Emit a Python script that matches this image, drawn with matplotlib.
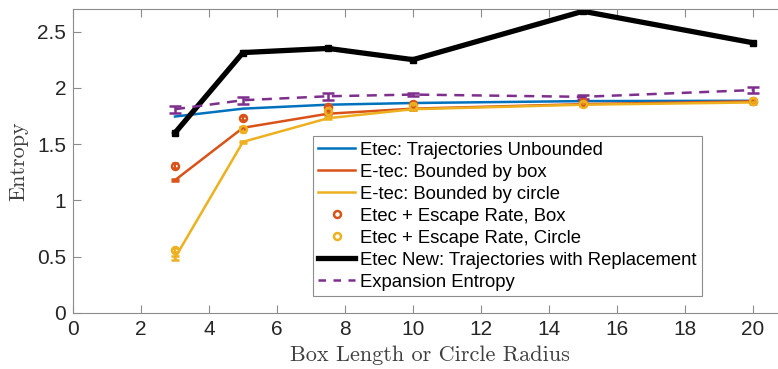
import matplotlib
matplotlib.use("Agg")
import matplotlib.pyplot as plt
from matplotlib.lines import Line2D

# Box length / circle radius values
radius = [3, 5, 7.5, 10, 15, 20]

etec_unbounded = [1.745, 1.815, 1.85, 1.865, 1.882, 1.885]
etec_box = [1.18, 1.645, 1.77, 1.815, 1.855, 1.88]
etec_box_err = [0.01, 0.01, 0.01, 0.01, 0.01, 0.01]
etec_circle = [0.49, 1.52, 1.73, 1.81, 1.85, 1.87]
etec_circle_err = [0.02, 0.01, 0.01, 0.01, 0.01, 0.01]
escape_box = [1.31, 1.73, 1.83, 1.86, 1.87, 1.88]
escape_box_err = [0.02, 0.02, 0.02, 0.01, 0.01, 0.01]
escape_circle = [0.56, 1.63, 1.79, 1.835, 1.86, 1.88]
escape_circle_err = [0.02, 0.02, 0.02, 0.01, 0.01, 0.01]
etec_new = [1.60, 2.313, 2.35, 2.25, 2.68, 2.40]
expansion = [1.81, 1.89, 1.925, 1.94, 1.92, 1.98]
expansion_err = [0.03, 0.03, 0.03, 0.015, 0.015, 0.03]

labels = ["Etec: Trajectories Unbounded", "E-tec: Bounded by box",
          "E-tec: Bounded by circle", "Etec + Escape Rate, Box",
          "Etec + Escape Rate, Circle", "Etec New: Trajectories with Replacement",
          "Expansion Entropy"]

blue = "#0072BD"
orange = "#D95319"
yellow = "#EDB120"
purple = "#7E2F8E"

plt.rcParams["font.family"] = ["Liberation Sans", "DejaVu Sans"]

fig = plt.figure(figsize=(7.78, 3.69), dpi=100)
ax = fig.add_axes([73 / 778, 1 - 313 / 369, (787 - 73) / 778, (313 - 9) / 369])

ax.plot(radius, etec_unbounded, color=blue, lw=1.8)
ax.errorbar(radius, etec_box, yerr=etec_box_err, color=orange, lw=1.8,
            capsize=3, capthick=1.8, elinewidth=1.8)
ax.errorbar(radius, etec_circle, yerr=etec_circle_err, color=yellow, lw=1.8,
            capsize=3, capthick=1.8, elinewidth=1.8)
ax.errorbar(radius, escape_box, yerr=escape_box_err, fmt="o", color=orange,
            mfc="none", mec=orange, ms=5, mew=1.8, capsize=2, capthick=1.5,
            elinewidth=1.5)
ax.errorbar(radius, escape_circle, yerr=escape_circle_err, fmt="o", color=yellow,
            mfc="none", mec=yellow, ms=5, mew=1.8, capsize=2, capthick=1.5,
            elinewidth=1.5)
ax.plot(radius, etec_new, color="black", lw=3.8, marker="s", ms=5,
        solid_joinstyle="miter")
ax.errorbar(radius, expansion, yerr=expansion_err, color=purple, lw=1.8,
            ls=(0, (4, 3)), capsize=4, capthick=1.8, elinewidth=1.8)

ax.set_xlim(0, 21)
ax.set_ylim(0, 2.7)
ax.set_xticks(range(0, 21, 2))
ax.set_yticks([0, 0.5, 1, 1.5, 2, 2.5])
ax.set_yticklabels(["0", "0.5", "1", "1.5", "2", "2.5"])

for side in ["left", "bottom", "top", "right"]:
    ax.spines[side].set_color("#8c8c8c")
    ax.spines[side].set_linewidth(0.8)
ax.tick_params(direction="in", length=6, width=0.8, color="#8c8c8c",
               labelsize=15, labelcolor="#262626", top=True, right=True, pad=5)

ax.set_xlabel("Box Length or Circle Radius", family="cmr10", fontsize=16,
              color="#404040", labelpad=5)
ax.set_ylabel("Entropy", family="cmr10", fontsize=16, color="#404040", labelpad=6)

handles = [
    Line2D([], [], color=blue, lw=1.8),
    Line2D([], [], color=orange, lw=1.8),
    Line2D([], [], color=yellow, lw=1.8),
    Line2D([], [], ls="none", marker="o", mfc="none", mec=orange, ms=5, mew=1.8),
    Line2D([], [], ls="none", marker="o", mfc="none", mec=yellow, ms=5, mew=1.8),
    Line2D([], [], color="black", lw=3.8),
    Line2D([], [], color=purple, lw=1.8, ls=(0, (3, 3))),
]
leg = ax.legend(handles, labels, loc="upper left", bbox_to_anchor=(0.336, 0.582),
                borderaxespad=0, fontsize=13.3, frameon=True, fancybox=False,
                framealpha=1, edgecolor="#8c8c8c", handlelength=2.0,
                handletextpad=0.25, labelspacing=0.27, borderpad=0.3)
leg.get_frame().set_linewidth(0.8)

fig.savefig("out.png", dpi=100)
